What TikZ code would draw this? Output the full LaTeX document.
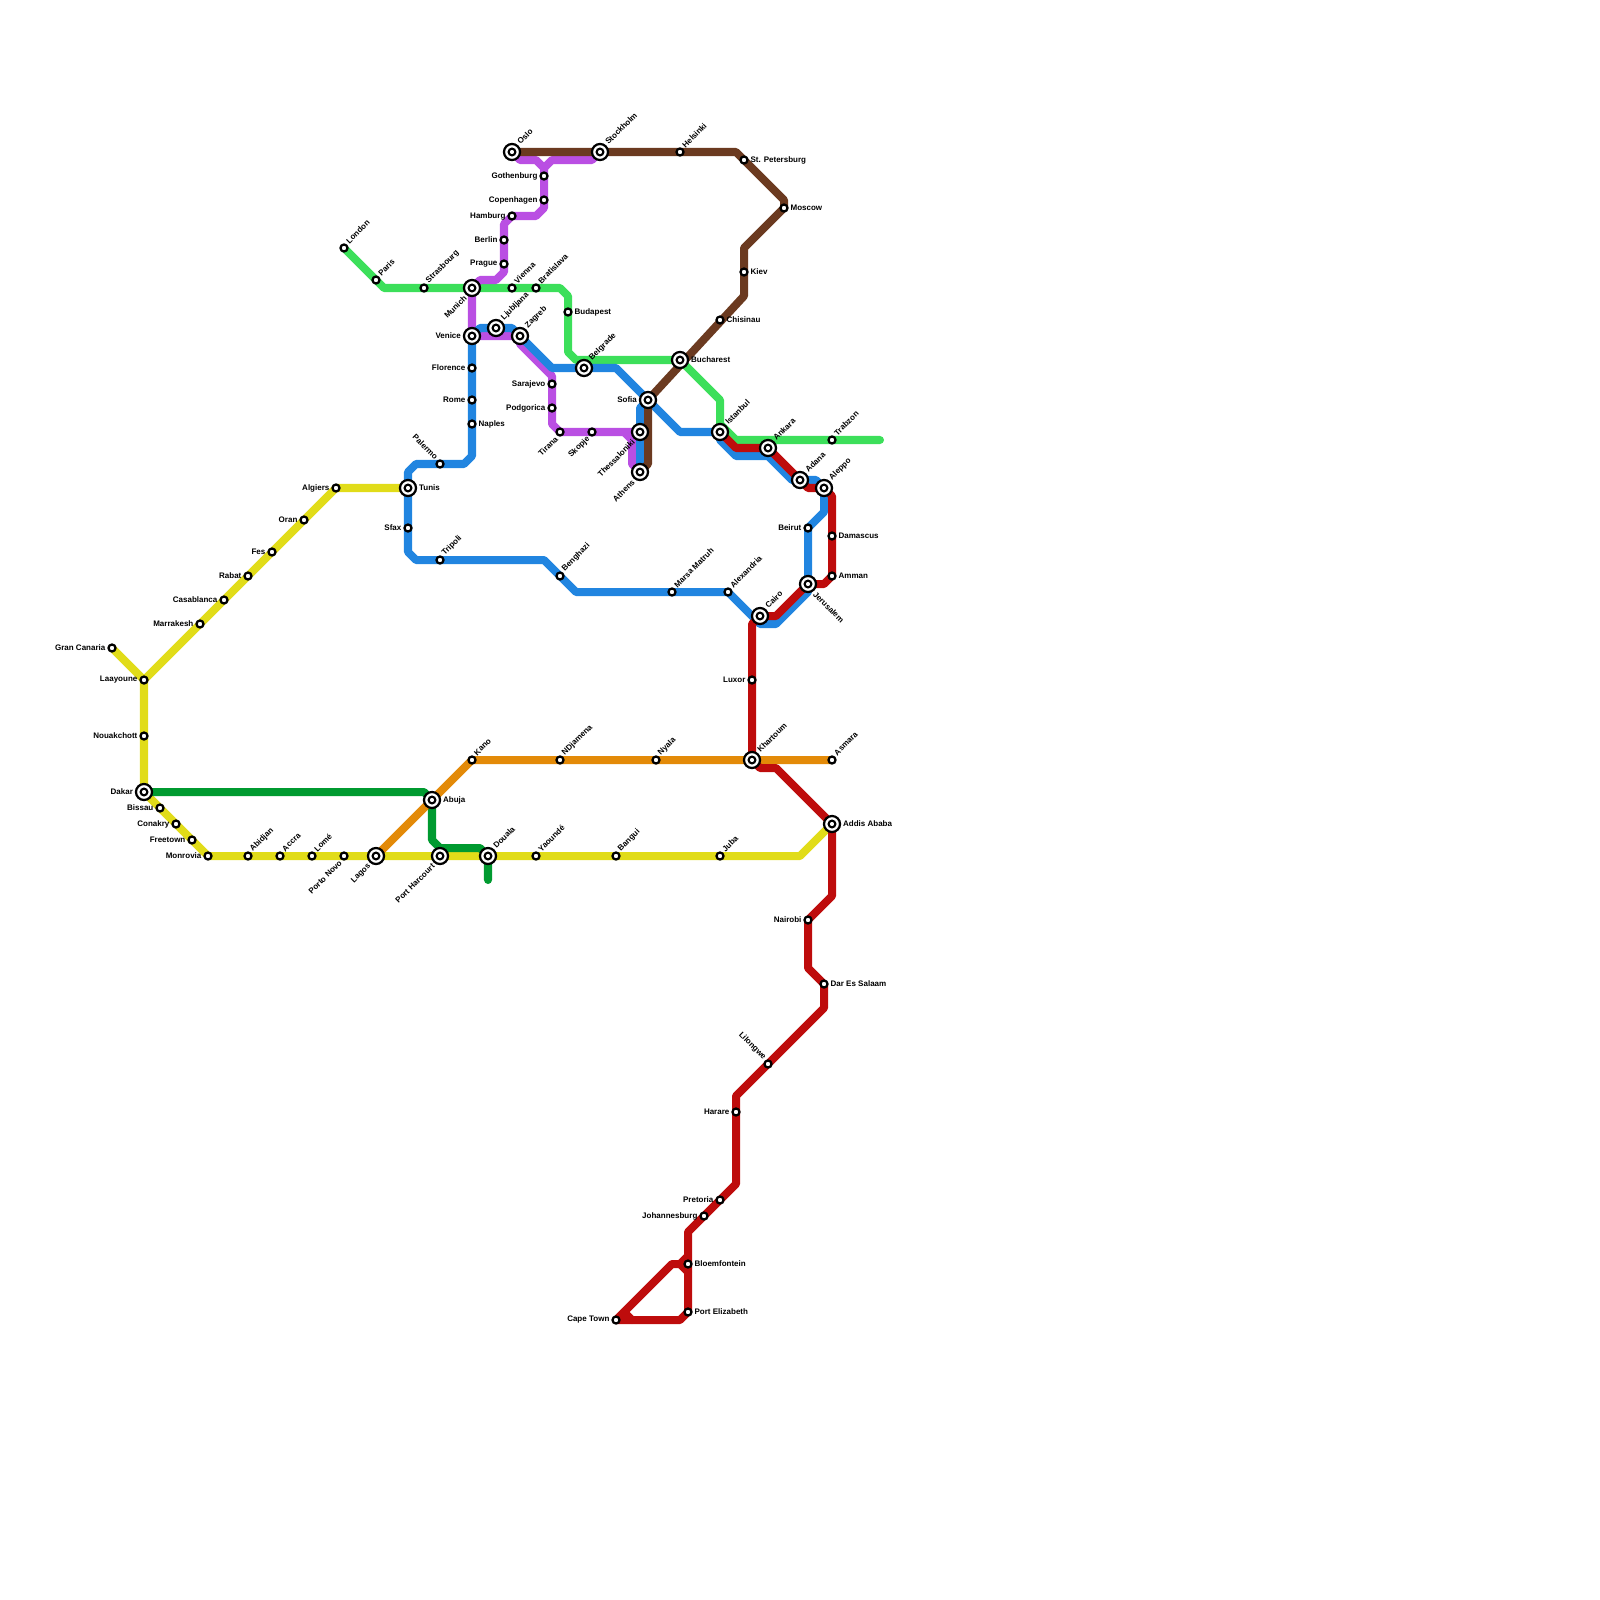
\documentclass[tikz,border=0pt]{standalone}
\usepackage{fontspec}
\setmainfont{Liberation Sans}
\usetikzlibrary{backgrounds}
\definecolor{lineyellow}{RGB}{225,220,25}
\definecolor{linelime}{RGB}{60,223,90}
\definecolor{linegreen}{RGB}{0,154,48}
\definecolor{lineorange}{RGB}{227,138,8}
\definecolor{linepurple}{RGB}{186,79,227}
\definecolor{lineblue}{RGB}{33,133,224}
\definecolor{linebrown}{RGB}{107,58,32}
\definecolor{linered}{RGB}{190,12,12}
\tikzset{
  stop/.style   = {circle, draw=black, fill=white, line width=1.6pt, inner sep=0pt, minimum size=5pt},
  hub/.style    = {circle, draw=black, fill=white, line width=1.6pt, inner sep=0pt, minimum size=11.4pt,
                   path picture={\draw[line width=1.5pt] (path picture bounding box.center) circle (2.4pt);}},
  txt/.style    = {font=\fontsize{5.7pt}{6pt}\selectfont\bfseries, inner sep=0pt, text=black},
  lblr/.style   = {label={[txt, anchor=west, label distance=1.2pt]0:#1}},
  lbll/.style   = {label={[txt, anchor=east, label distance=1.2pt]180:#1}},
  lblne/.style  = {label={[txt, rotate=45, anchor=west, label distance=1.7pt]45:#1}},
  lblsw/.style  = {label={[txt, rotate=45, anchor=east, label distance=1.7pt]225:#1}},
  lblnw/.style  = {label={[txt, rotate=-45, anchor=east, label distance=1.7pt]135:#1}},
  lblse/.style  = {label={[txt, rotate=-45, anchor=west, label distance=1.7pt]-45:#1}},
  route/.style  = {line width=5.7pt, line cap=round, line join=round},
}

\begin{document}
\begin{tikzpicture}[x=0.2cm, y=-0.2cm]
  \useasboundingbox (0,0) rectangle (200,200);

  % North
  \node[hub, lblne=Oslo]            (oslo) at (64,19) {};
  \node[hub, lblne=Stockholm]       (stockholm) at (75,19) {};
  \node[stop, lblne=Helsinki]       (helsinki) at (85,19) {};
  \node[stop, lblr=St. Petersburg]  (petersburg) at (93,20) {};
  \node[stop, lblr=Moscow]          (moscow) at (98,26) {};
  \node[stop, lblr=Kiev]            (kiev) at (93,34) {};
  \node[stop, lblr=Chisinau]        (chisinau) at (90,40) {};
  \node[hub, lblr=Bucharest]        (bucharest) at (85,45) {};
  \node[stop, lbll=Gothenburg]      (gothenburg) at (68,22) {};
  \node[stop, lbll=Copenhagen]      (copenhagen) at (68,25) {};
  \node[stop, lbll=Hamburg]         (hamburg) at (64,27) {};
  \node[stop, lbll=Berlin]          (berlin) at (63,30) {};
  \node[stop, lbll=Prague]          (prague) at (63,33) {};

  % Central Europe
  \node[stop, lblne=London]         (london) at (43,31) {};
  \node[stop, lblne=Paris]          (paris) at (47,35) {};
  \node[stop, lblne=Strasbourg]     (strasbourg) at (53,36) {};
  \node[hub, lblsw=Munich]          (munich) at (59,36) {};
  \node[stop, lblne=Vienna]         (vienna) at (64,36) {};
  \node[stop, lblne=Bratislava]     (bratislava) at (67,36) {};
  \node[stop, lblr=Budapest]        (budapest) at (71,39) {};
  \node[hub, lbll=Venice]           (venice) at (59,42) {};
  \node[hub, lblne=Ljubljana]       (ljubljana) at (62,41) {};
  \node[hub, lblne=Zagreb]          (zagreb) at (65,42) {};
  \node[stop, lbll=Florence]        (florence) at (59,46) {};
  \node[stop, lbll=Rome]            (rome) at (59,50) {};
  \node[stop, lblr=Naples]          (naples) at (59,53) {};
  \node[hub, lblne=Belgrade]        (belgrade) at (73,46) {};
  \node[stop, lbll=Sarajevo]        (sarajevo) at (69,48) {};
  \node[stop, lbll=Podgorica]       (podgorica) at (69,51) {};
  \node[stop, lblsw=Tirana]         (tirana) at (70,54) {};
  \node[stop, lblsw=Skopje]         (skopje) at (74,54) {};
  \node[hub, lbll=Sofia]            (sofia) at (81,50) {};
  \node[hub, lblsw=Thessaloniki]    (thessaloniki) at (80,54) {};
  \node[hub, lblsw=Athens]          (athens) at (80,59) {};

  % Middle East
  \node[hub, lblne=Istanbul]        (istanbul) at (90,54) {};
  \node[hub, lblne=Ankara]          (ankara) at (96,56) {};
  \node[stop, lblne=Trabzon]        (trabzon) at (104,55) {};
  \node[hub, lblne=Adana]           (adana) at (100,60) {};
  \node[hub, lblne=Aleppo]          (aleppo) at (103,61) {};
  \node[stop, lbll=Beirut]          (beirut) at (101,66) {};
  \node[stop, lblr=Damascus]        (damascus) at (104,67) {};
  \node[stop, lblr=Amman]           (amman) at (104,72) {};
  \node[hub, lblse=Jerusalem]       (jerusalem) at (101,73) {};

  % North Africa
  \node[hub, lblne=Cairo]           (cairo) at (95,77) {};
  \node[stop, lblne=Alexandria]     (alexandria) at (91,74) {};
  \node[stop, lblne=Marsa Matruh]   (matruh) at (84,74) {};
  \node[stop, lblne=Benghazi]       (benghazi) at (70,72) {};
  \node[stop, lblne=Tripoli]        (tripoli) at (55,70) {};
  \node[stop, lbll=Sfax]            (sfax) at (51,66) {};
  \node[hub, lblr=Tunis]            (tunis) at (51,61) {};
  \node[stop, lblnw=Palermo]        (palermo) at (55,58) {};
  \node[stop, lbll=Algiers]         (algiers) at (42,61) {};
  \node[stop, lbll=Oran]            (oran) at (38,65) {};
  \node[stop, lbll=Fes]             (fes) at (34,69) {};
  \node[stop, lbll=Rabat]           (rabat) at (31,72) {};
  \node[stop, lbll=Casablanca]      (casablanca) at (28,75) {};
  \node[stop, lbll=Marrakesh]       (marrakesh) at (25,78) {};
  \node[stop, lbll=Gran Canaria]    (canaria) at (14,81) {};
  \node[stop, lbll=Laayoune]        (laayoune) at (18,85) {};
  \node[stop, lbll=Nouakchott]      (nouakchott) at (18,92) {};

  % West Africa
  \node[hub, lbll=Dakar]            (dakar) at (18,99) {};
  \node[stop, lbll=Bissau]          (bissau) at (20,101) {};
  \node[stop, lbll=Conakry]         (conakry) at (22,103) {};
  \node[stop, lbll=Freetown]        (freetown) at (24,105) {};
  \node[stop, lbll=Monrovia]        (monrovia) at (26,107) {};
  \node[stop, lblne=Abidjan]        (abidjan) at (31,107) {};
  \node[stop, lblne=Accra]          (accra) at (35,107) {};
  \node[stop, lblne=Lomé]           (lome) at (39,107) {};
  \node[stop, lblsw=Porto Novo]     (portonovo) at (43,107) {};
  \node[hub, lblsw=Lagos]           (lagos) at (47,107) {};
  \node[hub, lblr=Abuja]            (abuja) at (54,100) {};
  \node[hub, lblsw=Port Harcourt]   (harcourt) at (55,107) {};
  \node[hub, lblne=Douala]          (douala) at (61,107) {};
  \node[stop, lblne=Yaoundé]        (yaounde) at (67,107) {};
  \node[stop, lblne=Bangui]         (bangui) at (77,107) {};
  \node[stop, lblne=Juba]           (juba) at (90,107) {};
  \node[stop, lblne=Kano]           (kano) at (59,95) {};
  \node[stop, lblne=NDjamena]       (ndjamena) at (70,95) {};
  \node[stop, lblne=Nyala]          (nyala) at (82,95) {};

  % East and South Africa
  \node[stop, lbll=Luxor]           (luxor) at (94,85) {};
  \node[hub, lblne=Khartoum]        (khartoum) at (94,95) {};
  \node[stop, lblne=Asmara]         (asmara) at (104,95) {};
  \node[hub, lblr=Addis Ababa]      (addis) at (104,103) {};
  \node[stop, lbll=Nairobi]         (nairobi) at (101,115) {};
  \node[stop, lblr=Dar Es Salaam]   (daressalaam) at (103,123) {};
  \node[stop, lblnw=Lilongwe]       (lilongwe) at (96,133) {};
  \node[stop, lbll=Harare]          (harare) at (92,139) {};
  \node[stop, lbll=Pretoria]        (pretoria) at (90,150) {};
  \node[stop, lbll=Johannesburg]    (johannesburg) at (88,152) {};
  \node[stop, lblr=Bloemfontein]    (bloemfontein) at (86,158) {};
  \node[stop, lblr=Port Elizabeth]  (elizabeth) at (86,164) {};
  \node[stop, lbll=Cape Town]       (capetown) at (77,165) {};

  \begin{scope}[on background layer]
    % Yellow
    \draw[route, lineyellow] (canaria.center) -- (laayoune.center) -- (dakar.center) -- (monrovia.center) -- (juba.center) -- (100,107) -- (addis.center);
    \draw[route, lineyellow] (laayoune.center) -- (algiers.center) -- (tunis.center);

    % Dark green
    \draw[route, linegreen] (dakar.center) -- (53,99) -- (abuja.center) -- (54,105) -- (55,106) -- (60,106) -- (douala.center) -- (61,110);

    % Orange
    \draw[route, lineorange] (lagos.center) -- (kano.center) -- (asmara.center);

    % Lime
    \draw[route, linelime] (london.center) -- (48,36) -- (70,36) -- (71,37) -- (71,44) -- (72,45) -- (bucharest.center) -- (90,50) -- (90,53) -- (92,55) -- (110,55);

    % Purple
    \draw[route, linepurple] (oslo.center) -- (65,20) -- (67,20) -- (68,21) -- (68,26) -- (67,27) -- (hamburg.center) -- (63,28) -- (63,34) -- (62,35) -- (60,35) -- (munich.center) -- (venice.center) -- (zagreb.center) -- (65,43) -- (69,47) -- (69,53) -- (tirana.center) -- (thessaloniki.center);
    \draw[route, linepurple] (stockholm.center) -- (74,20) -- (69,20) -- (68,21);
    \draw[route, linepurple] (78,54) -- (79,55) -- (79,58) -- (athens.center);

    % Blue
    \draw[route, lineblue] (palermo.center) -- (58,58) -- (59,57) -- (venice.center) -- (60,41) -- (64,41) -- (zagreb.center) -- (69,46) -- (77,46) -- (85,54) -- (istanbul.center) -- (90,55) -- (92,57) -- (96,57) -- (99,60) -- (102,60) -- (aleppo.center) -- (103,64) -- (beirut.center) -- (101,74) -- (97,78) -- (95,78) -- (alexandria.center) -- (72,74) -- (68,70) -- (52,70) -- (51,69) -- (tunis.center) -- (51,59) -- (52,58) -- (palermo.center);
    \draw[route, lineblue] (sofia.center) -- (80,51) -- (athens.center);

    % Brown
    \draw[route, linebrown] (oslo.center) -- (92,19) -- (98,25) -- (98,26) -- (93,31) -- (93,37) -- (sofia.center) -- (81,58) -- (athens.center);

    % Red
    \draw[route, linered] (istanbul.center) -- (92,56) -- (ankara.center) -- (101,61) -- (aleppo.center) -- (104,62) -- (amman.center) -- (103,73) -- (jerusalem.center) -- (97,77) -- (cairo.center) -- (94,78) -- (khartoum.center) -- (95,96) -- (97,96) -- (addis.center) -- (104,112) -- (nairobi.center) -- (101,121) -- (103,123) -- (103,126) -- (92,137) -- (92,148) -- (86,154) -- (elizabeth.center) -- (85,165) -- (capetown.center) -- (84,158) -- (85,158) -- (86,157);
    \draw[route, linered] (85,158) -- (86,159);
    \draw[route, linered] (78,164) -- (79,165);
  \end{scope}
\end{tikzpicture}
\end{document}
